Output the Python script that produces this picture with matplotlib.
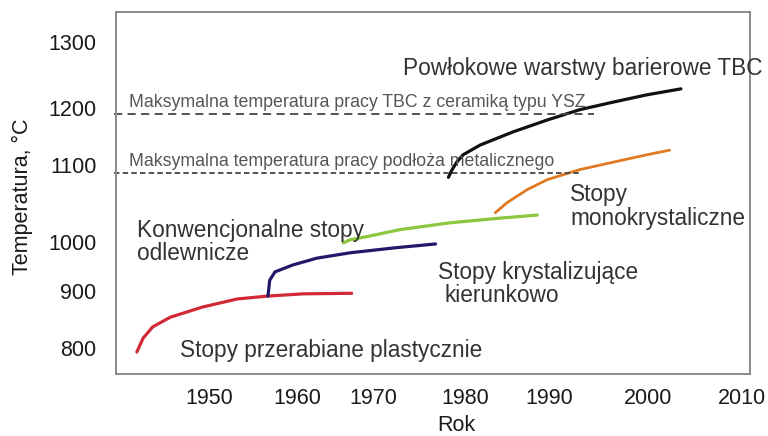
import numpy as np
import matplotlib
matplotlib.use("Agg")
import matplotlib.pyplot as plt

plt.rcParams['font.family'] = ['Liberation Sans', 'DejaVu Sans']

# Data (year, temperature in C)
wrought_year = [1941.8, 1942.5, 1943.6, 1945.6, 1949.3, 1953.2, 1956.6, 1960.8, 1967.2]
wrought_temp = [793, 817, 837, 854, 872, 886, 891, 895, 896]

cast_year = [1956.7, 1956.9, 1957.5, 1959.5, 1962.6, 1967.0, 1972.3, 1976.8]
cast_temp = [891, 922, 939, 953, 967, 978, 988, 996]

ds_year = [1966.1, 1967.0, 1969.2, 1972.9, 1978.4, 1984.2, 1988.6]
ds_temp = [998, 1003, 1007, 1016, 1025, 1031, 1035]

sx_year = [1983.6, 1985.0, 1987.4, 1989.8, 1993.1, 1996.5, 1999.9, 2002.3]
sx_temp = [1038, 1051, 1068, 1081, 1094, 1105, 1118, 1126]

tbc_year = [1978.2, 1978.6, 1979.1, 1979.8, 1981.8, 1985.7, 1989.8, 1993.1, 1996.5, 1999.9, 2003.5]
tbc_temp = [1084, 1094, 1105, 1118, 1135, 1158, 1179, 1197, 1209, 1220, 1229]

# maximum working temperatures (dashed lines)
limit_temps = [1190, 1090]
limit_ends = [1994.5, 1993.0]
limit_labels = ["Maksymalna temperatura pracy TBC z ceramiką typu YSZ",
                "Maksymalna temperatura pracy podłoża metalicznego"]

year_ticks = [1950, 1960, 1970, 1980, 1990, 2000, 2010]
temp_ticks = [800, 900, 1000, 1100, 1200, 1300]

# The source figure has unevenly spaced axis labels; reproduce that with a
# piecewise-linear scale (knot positions in source pixels)
x_knots = [1930, 1950, 1960, 1970, 1980, 1990, 2000, 2010, 2030]
x_knot_px = [33, 209, 297, 373, 465, 549, 648, 742, 930]
y_knots = [700, 800, 900, 1000, 1100, 1200, 1300, 1400]
y_knot_px = [405, 348, 291, 242, 165, 108, 42, -24]

x_px = np.array(x_knot_px, float)
y_px = -np.array(y_knot_px, float)  # increasing with temperature


def x_fwd(v):
    return np.interp(v, x_knots, x_px)


def x_inv(u):
    return np.interp(u, x_px, x_knots)


def y_fwd(v):
    return np.interp(v, y_knots, y_px)


def y_inv(u):
    return np.interp(u, y_px, y_knots)


W, H = 768, 436
L, R, T, B = 116, 750, 12, 374

fig = plt.figure(figsize=(W / 100, H / 100), dpi=100)
ax = fig.add_axes([L / W, 1 - B / H, (R - L) / W, (B - T) / H])
ax.set_xscale('function', functions=(x_fwd, x_inv))
ax.set_yscale('function', functions=(y_fwd, y_inv))
ax.set_xlim(float(x_inv(L)), float(x_inv(R)))
ax.set_ylim(float(y_inv(-B)), float(y_inv(-T)))

ax.plot(wrought_year, wrought_temp, color='#d12a36', lw=2.3, solid_capstyle='round')
ax.plot(cast_year, cast_temp, color='#22186a', lw=2.3, solid_capstyle='round')
ax.plot(ds_year, ds_temp, color='#8dc63f', lw=2.3, solid_capstyle='round')
ax.plot(sx_year, sx_temp, color='#e07a22', lw=2.0, solid_capstyle='round')
ax.plot(tbc_year, tbc_temp, color='#111111', lw=2.3, solid_capstyle='round')

x0 = ax.get_xlim()[0]
ax.plot([x0 - 0.2, limit_ends[0]], [limit_temps[0]] * 2, color='#444444', lw=1.3,
        dashes=(4.5, 3), clip_on=False)
ax.plot([x0 - 0.2, limit_ends[1]], [limit_temps[1]] * 2, color='#444444', lw=1.3,
        dashes=(3, 1.8), clip_on=False)


def px(x, y):
    return ((x - L) / (R - L), (B - y) / (B - T))


ax.text(*px(129, 107), limit_labels[0], transform=ax.transAxes, fontsize=12.8,
        color='#555555', va='baseline')
ax.text(*px(129, 166), limit_labels[1], transform=ax.transAxes, fontsize=12.8,
        color='#555555', va='baseline')

lab = dict(transform=ax.transAxes, fontsize=16.3, color='#333333', va='center')
ax.text(*px(403, 68), "Powłokowe warstwy barierowe TBC", clip_on=False, **lab)
ax.text(*px(137, 231), "Konwencjonalne stopy", **lab)
ax.text(*px(137, 254), "odlewnicze", **lab)
ax.text(*px(180, 351), "Stopy przerabiane plastycznie", **lab)
ax.text(*px(438, 272), "Stopy krystalizujące", **lab)
ax.text(*px(445, 295), "kierunkowo", **lab)
ax.text(*px(570, 195), "Stopy", **lab)
ax.text(*px(570, 218), "monokrystaliczne", **lab)

ax.set_xticks(year_ticks)
ax.set_xticklabels([str(v) for v in year_ticks])
ax.set_yticks(temp_ticks)
ax.set_yticklabels([str(v) for v in temp_ticks])
ax.minorticks_off()
ax.tick_params(axis='both', length=0, labelsize=15.5, labelcolor='#1a1a1a')
ax.tick_params(axis='x', pad=10)
ax.tick_params(axis='y', pad=14)

for s in ax.spines.values():
    s.set_color('#8a8a8a')
    s.set_linewidth(1.4)

ax.set_xlabel("Rok", fontsize=15.5, color='#1a1a1a')
ax.xaxis.set_label_coords((456 - L) / (R - L), (B - 425) / (B - T))
ax.xaxis.label.set_va('center')
ax.set_ylabel("Temperatura, °C", fontsize=15.5, color='#1a1a1a')
ax.yaxis.set_label_coords((22 - L) / (R - L), (B - 197) / (B - T))
ax.yaxis.label.set_va('center')

fig.savefig("out.png", dpi=100)
